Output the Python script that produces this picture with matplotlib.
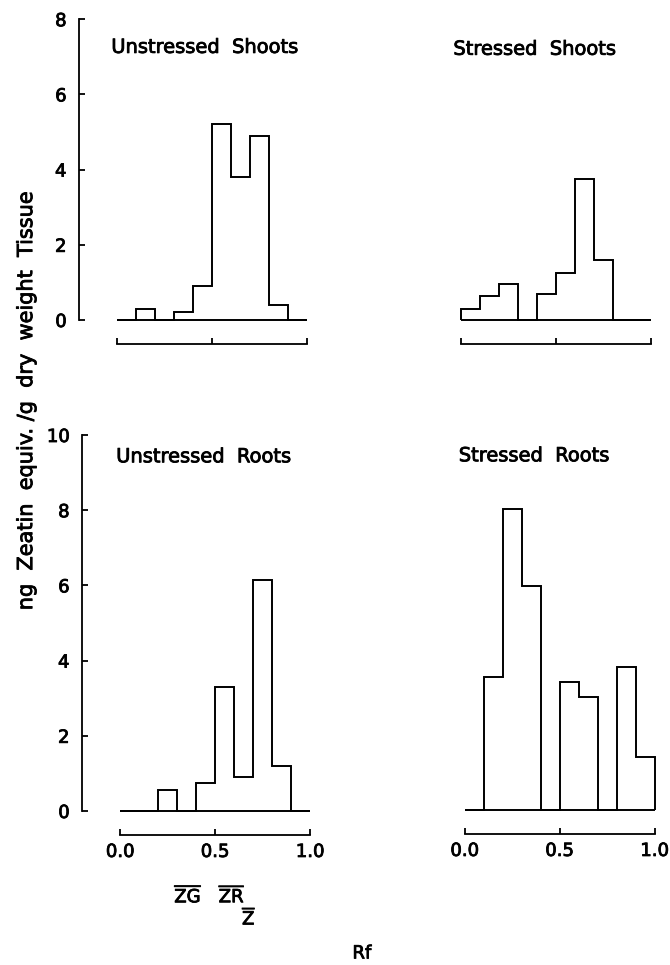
import numpy as np
import matplotlib.pyplot as plt
import matplotlib.patheffects as pe

# Rf bin edges (0.1 wide)
rf_edges = [0.0, 0.1, 0.2, 0.3, 0.4, 0.5, 0.6, 0.7, 0.8, 0.9, 1.0]

# ng zeatin equiv. / g dry weight, one value per Rf bin
unstressed_shoots = [0, 0.3, 0, 0.2, 0.9, 5.2, 3.8, 4.9, 0.4, 0]
stressed_shoots = [0.3, 0.65, 0.95, 0, 0.7, 1.25, 3.75, 1.6, 0, 0]
unstressed_roots = [0, 0, 0.55, 0, 0.75, 3.3, 0.9, 6.15, 1.2, 0]
stressed_roots = [0, 3.55, 8.0, 5.95, 0, 3.4, 3.0, 0, 3.8, 1.4]

shoot_ticks = [0, 2, 4, 6, 8]
root_ticks = [0, 2, 4, 6, 8, 10]
rf_ticks = [0.0, 0.5, 1.0]
rf_ticklabels = ['0.0', '0.5', '1.0']

plt.rcParams['font.family'] = 'DejaVu Sans'
plt.rcParams['mathtext.default'] = 'regular'

# slightly heavier text, like the printed original
heavy = [pe.withStroke(linewidth=0.6, foreground='black')]

W, H = 670, 965
fig = plt.figure(figsize=(W / 100, H / 100), dpi=100)

unit_x = 190.0
unit_y = 37.6


def make_ax(x0_px, base_px, ytop):
    left = x0_px - 0.2 * unit_x
    width = 1.25 * unit_x
    height = ytop * unit_y
    ax = fig.add_axes([left / W, (H - base_px) / H, width / W, height / H])
    ax.set_xlim(-0.2, 1.05)
    ax.set_ylim(0, ytop)
    ax.patch.set_visible(False)
    for s in ['top', 'right']:
        ax.spines[s].set_visible(False)
    ax.spines['bottom'].set_position(('outward', 17))
    ax.spines['bottom'].set_bounds(0, 1)
    ax.spines['bottom'].set_linewidth(1.3)
    ax.spines['left'].set_linewidth(1.3)
    ax.set_xticks(rf_ticks)
    ax.tick_params(axis='x', direction='in', length=4, width=1.3,
                   labelsize=13, pad=6)
    ax.tick_params(axis='y', direction='in', length=4, width=1.3,
                   labelsize=13, pad=9)
    return ax


def draw_hist(ax, vals):
    ax.stairs(vals, rf_edges, baseline=0, color='black', lw=1.4, clip_on=False)
    ax.hlines(0, rf_edges[0], rf_edges[-1], color='black', lw=1.4, clip_on=False)


ax1 = make_ax(117, 320, 8.5)
ax2 = make_ax(461, 320, 8.5)
ax3 = make_ax(120, 811, 10.5)
ax4 = make_ax(464.5, 810, 10.5)

draw_hist(ax1, unstressed_shoots)
draw_hist(ax2, stressed_shoots)
draw_hist(ax3, unstressed_roots)
draw_hist(ax4, stressed_roots)

for ax, ticks in [(ax1, shoot_ticks), (ax3, root_ticks)]:
    ax.set_yticks(ticks)
    ax.spines['left'].set_bounds(ticks[0], ticks[-1])

for ax in [ax2, ax4]:
    ax.spines['left'].set_visible(False)
    ax.tick_params(axis='y', left=False, labelleft=False)

for ax in [ax1, ax2]:
    ax.set_xticklabels([])
for ax in [ax3, ax4]:
    ax.set_xticklabels(rf_ticklabels)

for ax in [ax1, ax2, ax3, ax4]:
    for lab in ax.get_xticklabels() + ax.get_yticklabels():
        lab.set_path_effects(heavy)

ax1.text(-0.03, 7.25, 'Unstressed  Shoots', fontsize=14, va='center', path_effects=heavy)
ax2.text(-0.04, 7.2, 'Stressed  Shoots', fontsize=14, va='center', path_effects=heavy)
ax3.text(-0.02, 9.42, 'Unstressed  Roots', fontsize=14, va='center', path_effects=heavy)
ax4.text(-0.03, 9.42, 'Stressed  Roots', fontsize=14, va='center', path_effects=heavy)

# Rf positions of standards
ax3.text(0.36, -2.26, r'$\overline{ZG}$', fontsize=13, ha='center', va='center', path_effects=heavy)
ax3.text(0.59, -2.26, r'$\overline{ZR}$', fontsize=13, ha='center', va='center', path_effects=heavy)
ax3.text(0.68, -2.85, r'$\overline{Z}$', fontsize=13, ha='center', va='center', path_effects=heavy)

fig.text(0.54, 0.012, 'Rf', fontsize=13, ha='center', va='center', path_effects=heavy)
fig.text(0.039, 0.585, 'ng  Zeatin  equiv. /g  dry  weight  Tissue',
         fontsize=15, rotation=90, ha='center', va='center', path_effects=heavy)

fig.savefig('out.png', dpi=100)
